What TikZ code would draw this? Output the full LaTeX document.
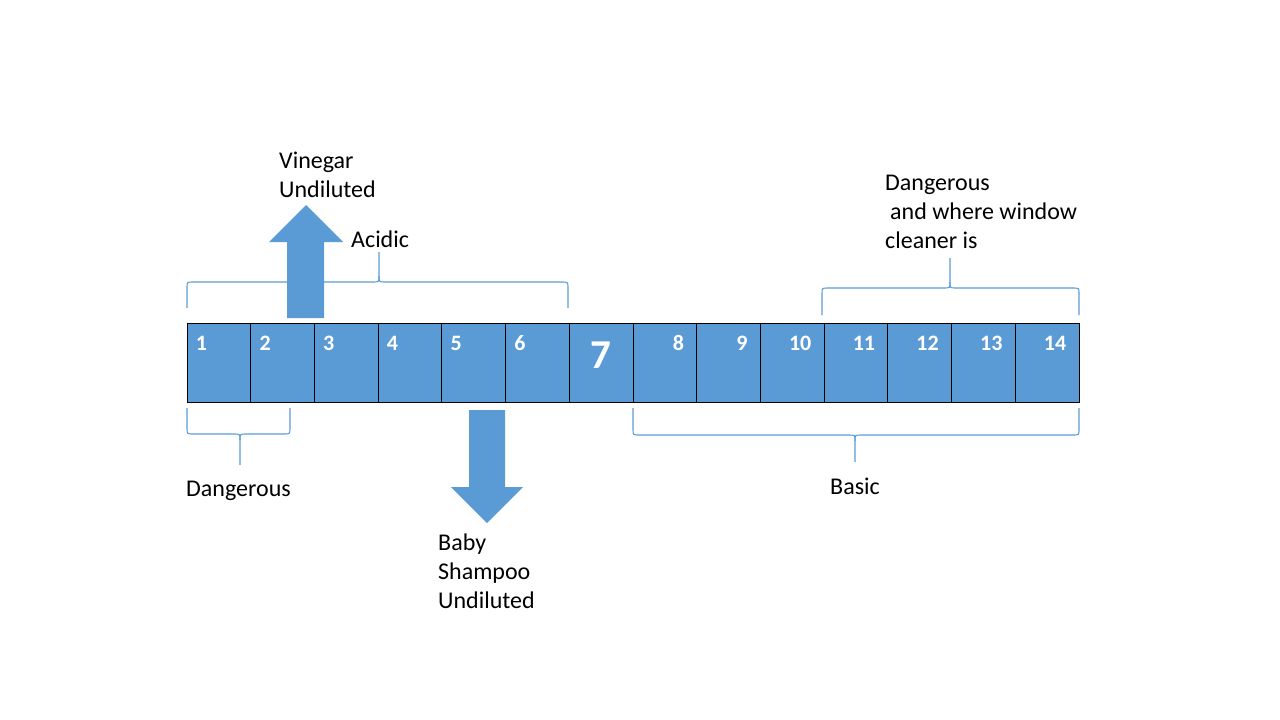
\documentclass[tikz,border=0pt]{standalone}
\usepackage{fontspec}
\setmainfont{Carlito}
\usetikzlibrary{positioning, calc}
\definecolor{phblue}{RGB}{91, 155, 213}

% curly bracket: left x, tip x, right x, end y, bar y, tip y
\newcommand{\phbrace}[6]{%
    \pgfmathsetmacro{\brsign}{(#4>#5) ? 6 : -6}
    \draw[bracestyle] (#1,#4) -- (#1,#5+\brsign) .. controls (#1,#5) .. (#1+6,#5)
        -- (#2-6,#5) .. controls (#2,#5) .. (#2,#5-\brsign) -- (#2,#6);
    \draw[bracestyle] (#3,#4) -- (#3,#5+\brsign) .. controls (#3,#5) .. (#3-6,#5)
        -- (#2+6,#5) .. controls (#2,#5) .. (#2,#5-\brsign);
}

\begin{document}
\begin{tikzpicture}[x=1pt, y=-1pt,
    cell/.style={draw=black, line width=0.8pt, fill=phblue, minimum width=63.714pt, minimum height=79pt, inner sep=0pt},
    num/.style={text=white, font=\fontsize{22}{26}\selectfont\bfseries, inner sep=0pt},
    lbl/.style={font=\fontsize{24}{29}\selectfont, align=left, inner sep=0pt, anchor=base west},
    bracestyle/.style={draw=phblue, line width=1.1pt}]
\useasboundingbox (0,0) rectangle (1280,720);

% pH scale cells
\foreach \i in {1,...,14}
    \node[cell] (c\i) at ({187+(\i-0.5)*63.714},362.5) {};

% acidic numbers
\foreach \i in {1,...,6}
    \node[num, anchor=base west] (n\i) at ($(c\i.north west)+(9,28)$) {\i};

% neutral
\node[num, font=\fontsize{41}{46}\selectfont\bfseries, anchor=base] (n7) at ($(c7.north)+(0,46)$) {7};

% basic numbers
\foreach \i in {8,...,14}
    \node[num, anchor=base east] (n\i) at ($(c\i.north east)+(-13,28)$) {\i};

% brackets
\phbrace{187}{379}{568}{308}{282}{252}
\phbrace{822}{950}{1079}{315}{288}{258}
\phbrace{187}{240}{290}{408}{434}{465}
\phbrace{633}{855}{1079}{408}{435}{462}

% block arrows
\fill[phblue] (287,318) -- (287,242) -- (269,242) -- (306,205) -- (343,242) -- (324,242) -- (324,318) -- cycle;
\fill[phblue] (469,410) -- (469,487) -- (451,487) -- (487,523) -- (523,487) -- (505,487) -- (505,410) -- cycle;

% labels (base = last line)
\node[lbl] (vinegar) at (279,197) {Vinegar\\Undiluted};
\node[lbl] (acidic) at (351,247) {Acidic};
\node[lbl] (danger) at (186,496) {Dangerous};
\node[lbl] (baby) at (438,608) {Baby\\Shampoo\\Undiluted};
\node[lbl] (basic) at (830,494) {Basic};
\node[lbl] (cleaner) at (885,248) {Dangerous\\\hspace*{5pt}and where window\\cleaner is};
\end{tikzpicture}
\end{document}
